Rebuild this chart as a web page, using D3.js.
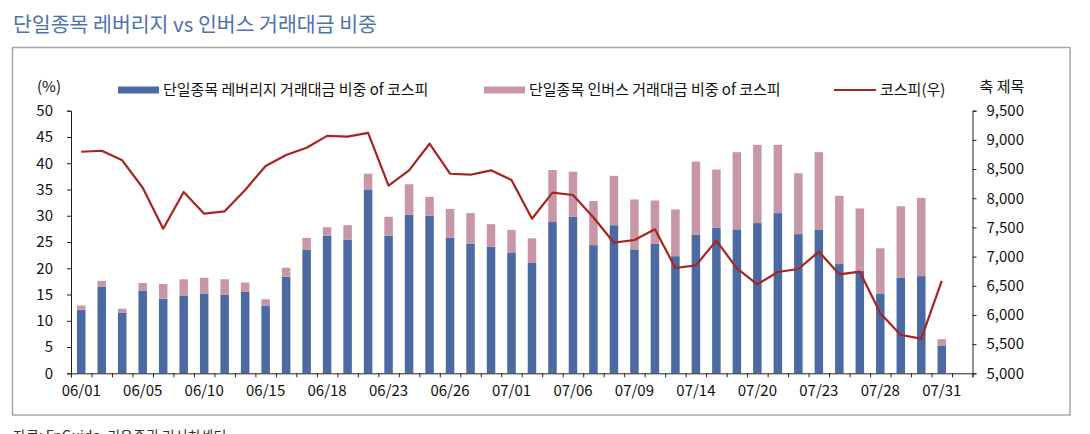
<!DOCTYPE html>
<html>
<head>
<meta charset="utf-8">
<script src="https://cdn.jsdelivr.net/npm/d3@7"></script>
<style>
  body { margin: 0; background: #fff; }
  svg { display: block; font-family: "Noto Sans CJK KR", "Noto Sans", sans-serif; }
</style>
</head>
<body>
<svg id="chart"></svg>
<script>
// trading days, 06/01 ~ 07/31 (+ one empty slot at the end)
var dates = ["06/01","06/02","06/04","06/05","06/08","06/09","06/10","06/11","06/12","06/15",
             "06/16","06/17","06/18","06/19","06/22","06/23","06/24","06/25","06/26","06/29",
             "06/30","07/01","07/02","07/03","07/06","07/07","07/08","07/09","07/10","07/13",
             "07/14","07/15","07/16","07/20","07/21","07/22","07/23","07/24","07/27","07/28",
             "07/29","07/30","07/31","08/03"];
var tickDates = ["06/01","06/05","06/10","06/15","06/18","06/23","06/26","07/01","07/06","07/09",
                 "07/14","07/20","07/23","07/28","07/31"];

// 단일종목 레버리지 거래대금 비중 (%)
var leverage = [12.1,16.5,11.5,15.7,14.2,14.8,15.2,15.0,15.5,12.9,
                18.4,23.5,26.2,25.4,35.0,26.2,30.2,30.0,25.8,24.7,
                24.1,22.9,21.0,28.8,29.8,24.4,28.2,23.6,24.7,22.3,
                26.4,27.7,27.4,28.6,30.5,26.5,27.3,20.8,19.5,15.2,
                18.2,18.5,5.2,null];
// 단일종목 인버스 거래대금 비중 (%)
var inverse = [0.8,1.1,0.8,1.5,2.8,3.1,3.0,2.9,1.8,1.2,
               1.7,2.3,1.6,2.8,3.0,3.6,5.8,3.6,5.5,5.8,
               4.3,4.4,4.7,9.9,8.6,8.4,9.4,9.5,8.2,8.9,
               13.9,11.1,14.7,14.9,13.0,11.6,14.8,13.0,11.9,8.6,
               13.6,14.9,1.3,null];
// 코스피(우)
var kospi = [8797,8814,8650,8180,7478,8107,7735,7776,8141,8552,
             8741,8866,9068,9056,9120,8215,8478,8934,8420,8403,
             8478,8312,7649,8095,8055,7670,7238,7284,7467,6804,
             6850,7273,6799,6525,6736,6787,7084,6696,6741,6028,
             5656,5593,6582,null];

var leftTicks = [0,5,10,15,20,25,30,35,40,45,50];
var rightTicks = [5000,5500,6000,6500,7000,7500,8000,8500,9000,9500];

var W = 1090, H = 434;
var plot = { left: 71, right: 972.5, top: 110.7, bottom: 373.3 };
var colors = { lev: "#4a6aa1", inv: "#c796a7", line: "#a82420", title: "#4e72ad" };

var svg = d3.select("#chart").attr("width", W).attr("height", H);

// title
svg.append("text")
    .attr("x", 13).attr("y", 32)
    .attr("fill", colors.title)
    .style("font-size", "20.5px")
    .text("단일종목 레버리지 vs 인버스 거래대금 비중");

// frame
svg.append("rect")
    .attr("x", 12.5).attr("y", 47.5)
    .attr("width", 1070 - 12.5).attr("height", 415 - 47.5)
    .attr("fill", "none").attr("stroke", "#a6a6a6").attr("stroke-width", 1.5);

// scales
var xScale = d3.scaleBand()
    .domain(dates)
    .range([plot.left, plot.right])
    .paddingInner(0.585)
    .paddingOuter(0.2925);

var yLeft = d3.scaleLinear().domain([0, 50]).range([plot.bottom, plot.top]);
var yRight = d3.scaleLinear().domain([5000, 9500]).range([plot.bottom, plot.top]);
var xIndex = d3.scaleLinear().domain([0, dates.length]).range([plot.left, plot.right]);

// stacked bars
var rows = dates.map(function(d, i) {
    return { date: d, lev: leverage[i], inv: inverse[i], kospi: kospi[i] };
}).filter(function(d) { return d.lev != null; });

var bars = svg.append("g");
bars.selectAll(".lev")
    .data(rows)
    .enter()
    .append("rect")
    .attr("class", "lev")
    .attr("x", d => xScale(d.date))
    .attr("y", d => yLeft(d.lev))
    .attr("width", xScale.bandwidth())
    .attr("height", d => yLeft(0) - yLeft(d.lev))
    .attr("fill", colors.lev);

bars.selectAll(".inv")
    .data(rows)
    .enter()
    .append("rect")
    .attr("class", "inv")
    .attr("x", d => xScale(d.date))
    .attr("y", d => yLeft(d.lev + d.inv))
    .attr("width", xScale.bandwidth())
    .attr("height", d => yLeft(d.lev) - yLeft(d.lev + d.inv))
    .attr("fill", colors.inv);

// kospi line
var line = d3.line()
    .x(d => xScale(d.date) + xScale.bandwidth() / 2)
    .y(d => yRight(d.kospi));

svg.append("path")
    .datum(rows)
    .attr("d", line)
    .attr("fill", "none")
    .attr("stroke", colors.line)
    .attr("stroke-width", 2.2)
    .attr("stroke-linejoin", "round");

// left axis
var gLeft = svg.append("g")
    .attr("transform", "translate(" + plot.left + ",0)")
    .call(d3.axisLeft(yLeft).tickValues(leftTicks).tickSize(4).tickPadding(14));

// right axis
var gRight = svg.append("g")
    .attr("transform", "translate(" + plot.right + ",0)")
    .call(d3.axisRight(yRight).tickValues(rightTicks).tickSize(4).tickPadding(10).tickFormat(d3.format(",")));

// x axis: boundary ticks and labels
var gTicks = svg.append("g")
    .attr("transform", "translate(0," + plot.bottom + ")")
    .call(d3.axisBottom(xIndex).tickValues(d3.range(dates.length + 1)).tickSize(4).tickFormat(""));

var gLabels = svg.append("g")
    .attr("transform", "translate(0," + plot.bottom + ")")
    .call(d3.axisBottom(xScale).tickValues(tickDates).tickSize(0).tickPadding(12));
gLabels.select(".domain").remove();

[gLeft, gRight, gTicks, gLabels].forEach(function(g) {
    g.selectAll(".domain").attr("stroke", "#222");
    g.selectAll(".tick line").attr("stroke", "#222");
    g.selectAll("text")
        .attr("fill", "#111")
        .style("font-family", "'Noto Sans CJK KR', sans-serif")
        .style("font-size", "15px");
});

// axis titles
svg.append("text")
    .attr("x", 49).attr("y", 92)
    .attr("text-anchor", "middle")
    .style("font-size", "15px").attr("fill", "#111")
    .text("(%)");

svg.append("text")
    .attr("x", 1002).attr("y", 92)
    .attr("text-anchor", "middle")
    .style("font-size", "15px").attr("fill", "#111")
    .text("축 제목");

// legend
var legend = svg.append("g");
legend.append("rect").attr("x", 118).attr("y", 86.5).attr("width", 41).attr("height", 7).attr("fill", colors.lev);
legend.append("text").attr("x", 163).attr("y", 95).style("font-size", "15px").attr("fill", "#111")
    .text("단일종목 레버리지 거래대금 비중 of 코스피");
legend.append("rect").attr("x", 484).attr("y", 86.5).attr("width", 41).attr("height", 7).attr("fill", colors.inv);
legend.append("text").attr("x", 529).attr("y", 95).style("font-size", "15px").attr("fill", "#111")
    .text("단일종목 인버스 거래대금 비중 of 코스피");
legend.append("line").attr("x1", 834).attr("x2", 876).attr("y1", 90).attr("y2", 90)
    .attr("stroke", colors.line).attr("stroke-width", 2.2);
legend.append("text").attr("x", 880).attr("y", 95).style("font-size", "15px").attr("fill", "#111")
    .text("코스피(우)");

// source line, sitting at the bottom edge as in the original
svg.append("text")
    .attr("x", 13).attr("y", 441)
    .style("font-size", "14px").attr("fill", "#333")
    .text("자료: FnGuide, 키움증권 리서치센터");
</script>
</body>
</html>
